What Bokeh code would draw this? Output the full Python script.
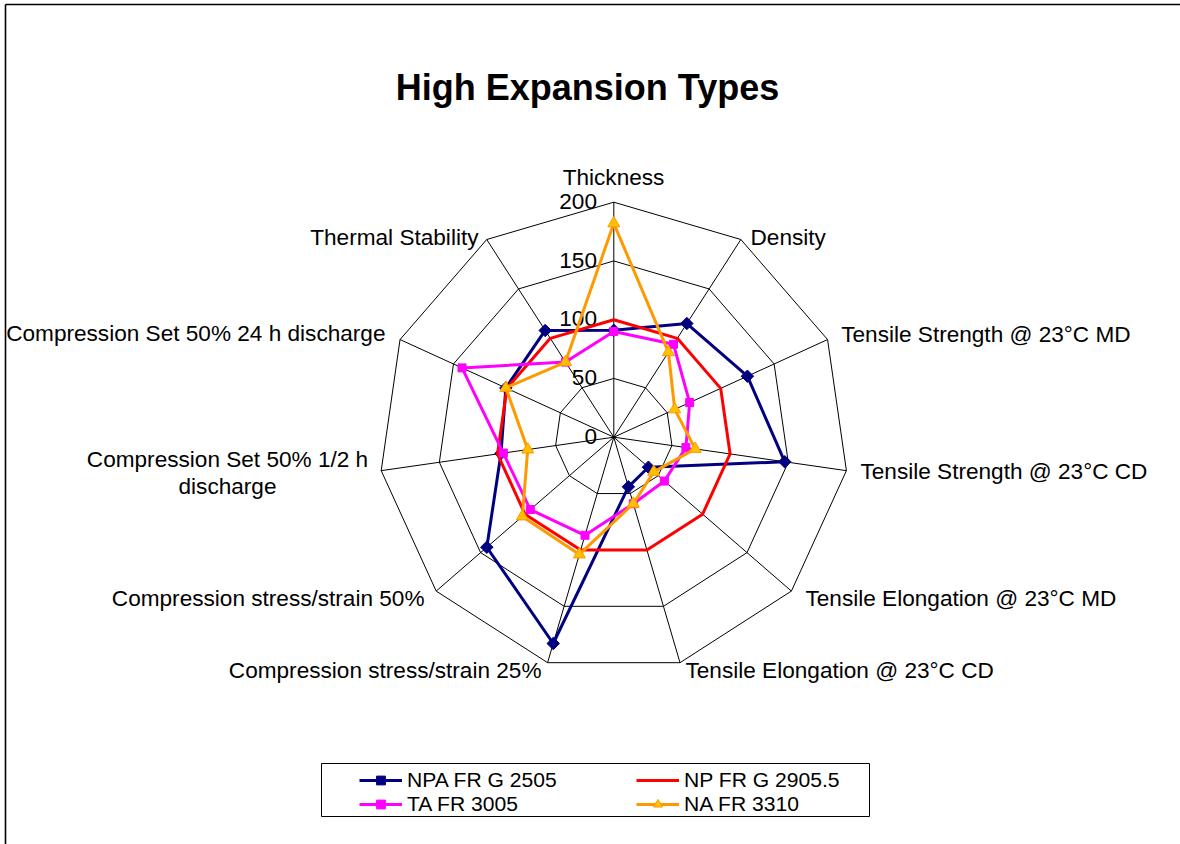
import numpy as np
from bokeh.plotting import figure
from bokeh.models import Range1d, Label, Legend, LegendItem
from bokeh.embed import file_html
from bokeh.resources import INLINE
from bokeh.core.properties import value

# ---------------- data ----------------
categories = [
    "Thickness",
    "Density",
    "Tensile Strength @ 23°C MD",
    "Tensile Strength @ 23°C CD",
    "Tensile Elongation @ 23°C MD",
    "Tensile Elongation @ 23°C CD",
    "Compression stress/strain 25%",
    "Compression stress/strain 50%",
    "Compression Set 50% 1/2 h discharge",
    "Compression Set 50% 24 h discharge",
    "Thermal Stability",
]
series_names = ["NPA FR G 2505", "NP FR G 2905.5", "TA FR 3005", "NA FR 3310"]
npa_fr_g_2505 = [91, 115, 125, 147, 39, 44, 183, 143, 97, 101, 108]
np_fr_g_2905_5 = [100, 100, 100, 100, 100, 100, 100, 100, 100, 100, 100]
ta_fr_3005 = [90, 94, 71, 62, 57, 59, 87, 94, 95, 142, 76]
na_fr_3310 = [182, 86, 57, 70, 45, 59, 104, 103, 74, 101, 76]
tick_values = [0, 50, 100, 150, 200]
tick_labels = ["0", "50", "100", "150", "200"]
title_text = "High Expansion Types"

# ---------------- layout ----------------
W, H = 1180, 844          # canvas size
CX, CY = 613.3, 436.7     # radar centre in page pixels
S = 1.175                 # pixels per value unit
FONT = "Liberation Sans"
FS_LAB = 22.6
FS_TITLE = 36.0
BASE_SHIFT = 0.37         # em correction for rendered alphabetic baseline


def ux(X):
    return (X - CX) / S


def uy(Y):
    return (CY - Y) / S


n = len(categories)
theta = np.arange(n) * 2 * np.pi / n
sin_t, cos_t = np.sin(theta), np.cos(theta)
rmax = tick_values[-1]

p = figure(width=W, height=H, output_backend="svg", toolbar_location=None,
           x_range=Range1d(ux(0), ux(W)), y_range=Range1d(uy(H), uy(0)),
           x_axis_location=None, y_axis_location=None, min_border=0,
           background_fill_color="white", border_fill_color="white")
p.grid.visible = False
p.outline_line_color = None

# outer frame lines (top and left edges of the chart area)
p.line([ux(5), ux(W)], [uy(4), uy(4)], line_color="black", line_width=1.6)
p.line([ux(5), ux(5)], [uy(4), uy(H)], line_color="black", line_width=1.6)

# grid: rings and spokes
ring_xs = [list(np.append(r * sin_t, r * sin_t[0])) for r in tick_values[1:]]
ring_ys = [list(np.append(r * cos_t, r * cos_t[0])) for r in tick_values[1:]]
p.multi_line(ring_xs, ring_ys, line_color="black", line_width=1)
p.segment(x0=np.zeros(n), y0=np.zeros(n), x1=rmax * sin_t, y1=rmax * cos_t,
          line_color="black", line_width=1)

# tick labels
tick_off = (7.5 - BASE_SHIFT * FS_LAB) / S
p.text(x=[ux(596.5)] * len(tick_values), y=[v - tick_off for v in tick_values],
       text=tick_labels, text_align="right", text_baseline="alphabetic",
       text_font=value(FONT), text_font_size=f"{FS_LAB}px", text_color="black")


def closed(vals):
    v = np.asarray(vals, dtype=float)
    xs = v * sin_t
    ys = v * cos_t
    return np.append(xs, xs[0]), np.append(ys, ys[0]), xs, ys


items = []
# NPA FR G 2505 - navy diamonds
lx, ly, mx, my = closed(npa_fr_g_2505)
r1 = p.line(lx, ly, line_color="#000080", line_width=3)
m1 = p.scatter(mx, my, marker="square", angle=np.pi / 4, size=8.8,
               fill_color="#000080", line_color="#000080")
items.append(LegendItem(label=series_names[0], renderers=[r1, m1]))
# NP FR G 2905.5 - red line
lx, ly, mx, my = closed(np_fr_g_2905_5)
r2 = p.line(lx, ly, line_color="#FF0000", line_width=3)
items.append(LegendItem(label=series_names[1], renderers=[r2]))
# TA FR 3005 - magenta squares
lx, ly, mx, my = closed(ta_fr_3005)
r3 = p.line(lx, ly, line_color="#FF00FF", line_width=3)
m3 = p.scatter(mx, my, marker="square", size=8, fill_color="#FF00FF", line_color="#FF00FF")
items.append(LegendItem(label=series_names[2], renderers=[r3, m3]))
# NA FR 3310 - orange triangles
lx, ly, mx, my = closed(na_fr_3310)
r4 = p.line(lx, ly, line_color="#FF9900", line_width=3)
m4 = p.scatter(mx, my, marker="triangle", size=12, fill_color="#FFC000",
               line_color="#FF9900", line_width=1)
items.append(LegendItem(label=series_names[3], renderers=[r4, m4]))

# category labels (page-pixel anchors, alphabetic baseline)
label_pos = [
    (613, 185, "center"),
    (750, 245, "left"),
    (840.7, 342.3, "left"),
    (860, 479, "left"),
    (805, 606, "left"),
    (685, 678, "left"),
    (541, 678, "right"),
    (424, 606, "right"),
    (227, 467.5, "center"),
    (385, 341.7, "right"),
    (478, 245, "right"),
]
for cat, (X, Y, al) in zip(categories, label_pos):
    if cat == "Compression Set 50% 1/2 h discharge":
        parts = ["Compression Set 50% 1/2 h", "discharge"]
    else:
        parts = [cat]
    for k, t in enumerate(parts):
        p.add_layout(Label(x=ux(X), y=uy(Y + 26.5 * k - BASE_SHIFT * FS_LAB), text=t,
                           text_align=al, text_baseline="alphabetic", text_font=FONT,
                           text_font_size=f"{FS_LAB}px", text_color="black"))

# title
p.add_layout(Label(x=ux(587), y=uy(100 - BASE_SHIFT * FS_TITLE), text=title_text,
                   text_align="center", text_baseline="alphabetic", text_font=FONT,
                   text_font_style="bold", text_font_size=f"{FS_TITLE}px",
                   text_color="black"))

# legend frame
p.quad(left=[ux(321)], right=[ux(869)], top=[uy(763)], bottom=[uy(816)],
       fill_color="white", line_color="black", line_width=1, level="overlay")

legend = Legend(items=items, location=(359, 28), orientation="horizontal", ncols=2,
                padding=4, margin=0, spacing=0, glyph_width=43, glyph_height=22,
                label_height=22, label_width=229, label_standoff=5,
                label_text_font=FONT, label_text_font_size="21.1px",
                label_text_color="black", label_text_baseline="middle",
                border_line_color=None, background_fill_alpha=0)
p.add_layout(legend, "center")

open("out.html", "w").write(file_html(p, INLINE))
